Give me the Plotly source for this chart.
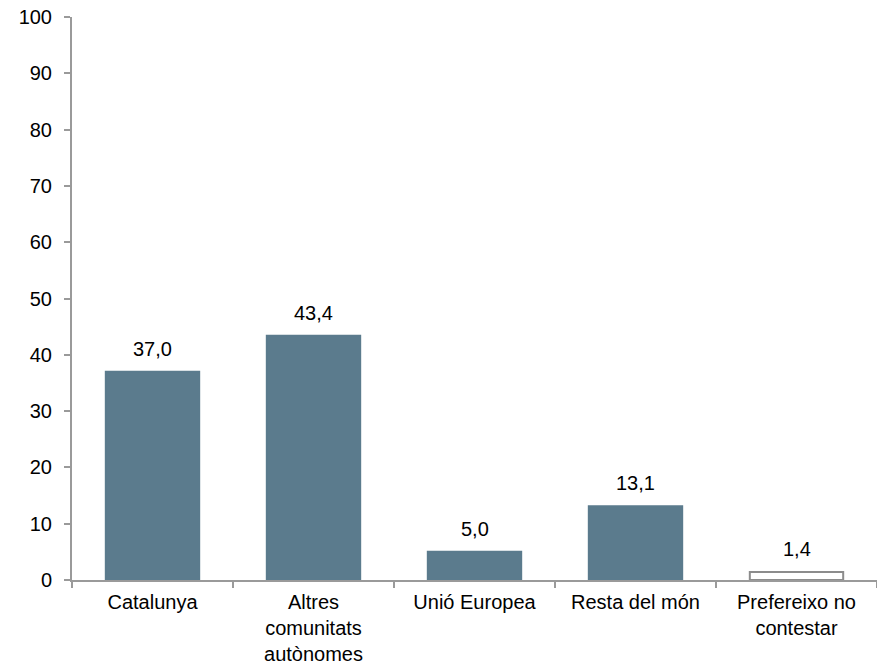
import plotly.graph_objects as go

categories = ["Catalunya", "Altres<br>comunitats<br>autònomes", "Unió Europea", "Resta del món", "Prefereixo no<br>contestar"]
values = [37.0, 43.4, 5.0, 13.1, 1.4]
labels = ["37,0", "43,4", "5,0", "13,1", "1,4"]
fill_colors = ["#5B7B8D", "#5B7B8D", "#5B7B8D", "#5B7B8D", "#FFFFFF"]
line_colors = ["#5B7B8D", "#5B7B8D", "#5B7B8D", "#5B7B8D", "#8C8C8C"]
y_ticks = [0, 10, 20, 30, 40, 50, 60, 70, 80, 90, 100]

FONT = "Liberation Sans, Arial, sans-serif"
AXIS = "#9A9A9A"

fig = go.Figure()
fig.add_trace(go.Bar(
    x=categories, y=values,
    marker=dict(color=fill_colors, line=dict(color=line_colors, width=2)),
    width=0.58,
    hoverinfo="skip",
))
for c, v, t in zip(categories, values, labels):
    fig.add_annotation(x=c, y=v, text=t, showarrow=False, yanchor="bottom",
                       yshift=10, font=dict(family=FONT, size=20, color="#000000"))

fig.update_layout(
    width=877, height=666,
    margin=dict(l=72, r=0, t=17, b=86),
    plot_bgcolor="white", paper_bgcolor="white",
    showlegend=False,
    font=dict(family=FONT, size=20, color="#000000"),
)
fig.update_xaxes(
    type="category", range=[-0.5, 4.5], automargin=False,
    showline=True, linecolor=AXIS, linewidth=2,
    ticks="outside", ticklen=6, tickcolor=AXIS, tickwidth=2,
    tickson="boundaries", showgrid=False, zeroline=False,
    ticklabelstandoff=3,
    tickfont=dict(family=FONT, size=20, color="#000000"),
)
fig.update_yaxes(
    range=[0, 100], tickvals=y_ticks, automargin=False,
    showline=True, linecolor=AXIS, linewidth=2,
    ticks="outside", ticklen=6, tickcolor=AXIS, tickwidth=2,
    showgrid=False, zeroline=False, ticklabelstandoff=8,
    tickfont=dict(family=FONT, size=20, color="#000000"),
)

fig.write_html(
    "out.html",
    config={"displayModeBar": False},
    post_script="document.body.style.margin='0';document.body.style.overflow='hidden';",
)
